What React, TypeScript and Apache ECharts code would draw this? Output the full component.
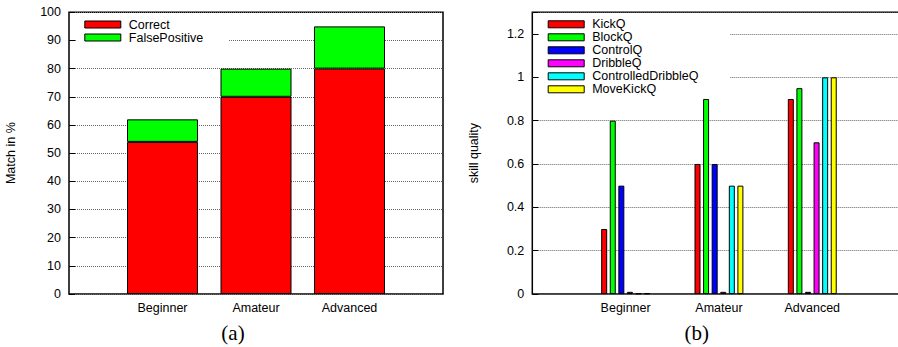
import React, { useEffect, useRef } from "react";
import * as echarts from "echarts";

// ---- data ----
const categories = ["", "Beginner", "Amateur", "Advanced", ""];
const correct = [null, 54, 70, 80, null];
const falsePositive = [null, 8, 10, 15, null];

const kickQ = [null, 0.3, 0.6, 0.9, null];
const blockQ = [null, 0.8, 0.9, 0.95, null];
const controlQ = [null, 0.5, 0.6, 0.01, null];
const dribbleQ = [null, 0.01, 0.01, 0.7, null];
const controlledDribbleQ = [null, 0.003, 0.5, 1.0, null];
const moveKickQ = [null, 0.003, 0.5, 1.0, null];

const leftTitleA = "(a)";
const rightTitleB = "(b)";

const FONT = "'Liberation Sans', Arial, Helvetica, sans-serif";
const SERIF = "'Liberation Serif', 'Times New Roman', serif";

export default function App() {
  const ref = useRef<HTMLDivElement>(null);
  useEffect(() => {
    if (!ref.current) return;
    const chart = echarts.init(ref.current, undefined, { renderer: "svg" });

    const textStyle = { fontFamily: FONT, fontSize: 12.5, color: "#000" };
    const splitLine = {
      show: true,
      lineStyle: { color: "#666", type: "dotted" as const, width: 1 },
    };
    const barStyle = (c: string) => ({ color: c, borderColor: "#000", borderWidth: 1 });

    const rightSeries = [
      { name: "KickQ", data: kickQ, color: "#ff0000" },
      { name: "BlockQ", data: blockQ, color: "#00ff00" },
      { name: "ControlQ", data: controlQ, color: "#0000ff" },
      { name: "DribbleQ", data: dribbleQ, color: "#ff00ff" },
      { name: "ControlledDribbleQ", data: controlledDribbleQ, color: "#00ffff" },
      { name: "MoveKickQ", data: moveKickQ, color: "#ffff00" },
    ];

    chart.setOption({
      animation: false,
      backgroundColor: "#fff",
      textStyle: { fontFamily: FONT },
      grid: [
        {
          left: 69,
          top: 12.3,
          width: 374,
          height: 281.7,
          show: true,
          borderColor: "#000",
          borderWidth: 1.5,
          backgroundColor: "transparent",
          outerBoundsMode: "none",
        },
        {
          left: 532.3,
          top: 12.3,
          width: 373.3,
          height: 281.7,
          show: true,
          borderColor: "#000",
          borderWidth: 1.5,
          backgroundColor: "transparent",
          outerBoundsMode: "none",
        },
      ],
      xAxis: [
        {
          type: "category",
          gridIndex: 0,
          data: categories,
          boundaryGap: false,
          axisLine: { show: false },
          axisTick: { show: false },
          axisLabel: { ...textStyle, margin: 7 },
          splitLine: { show: false },
        },
        {
          type: "category",
          gridIndex: 1,
          data: categories,
          boundaryGap: false,
          axisLine: { show: false },
          axisTick: { show: false },
          axisLabel: { ...textStyle, margin: 7 },
          splitLine: { show: false },
        },
      ],
      yAxis: [
        {
          type: "value",
          gridIndex: 0,
          min: 0,
          max: 100,
          interval: 10,
          name: "Match in %",
          nameLocation: "middle",
          nameGap: 52,
          nameTextStyle: { ...textStyle },
          axisLine: { show: false },
          axisTick: { show: true, inside: true, length: 6, lineStyle: { color: "#000" } },
          axisLabel: { ...textStyle, margin: 8 },
          splitLine,
        },
        {
          type: "value",
          gridIndex: 1,
          min: 0,
          max: 1.3,
          interval: 0.2,
          name: "skill quality",
          nameLocation: "middle",
          nameGap: 51.6,
          nameTextStyle: { ...textStyle },
          axisLine: { show: false },
          axisTick: { show: true, inside: true, length: 6, lineStyle: { color: "#000" } },
          axisLabel: {
            ...textStyle,
            margin: 8,
            formatter: (v: number) => (Math.abs(v - 1.3) < 1e-6 ? "" : String(Math.round(v * 10) / 10)),
          },
          splitLine,
        },
      ],
      legend: [
        {
          data: ["Correct", "FalsePositive"],
          orient: "vertical",
          left: 84.3,
          top: 18,
          padding: 0,
          itemGap: 0,
          itemWidth: 36,
          itemHeight: 7,
          icon: "rect",
          itemStyle: { borderColor: "#000", borderWidth: 1 },
          textStyle: { ...textStyle, lineHeight: 13, padding: [0, 0, 0, 3] },
          selectedMode: false,
          z: 10,
        },
        {
          data: rightSeries.map((s) => s.name),
          orient: "vertical",
          left: 547.7,
          top: 17.8,
          padding: 0,
          itemGap: 0,
          itemWidth: 36,
          itemHeight: 7,
          icon: "rect",
          itemStyle: { borderColor: "#000", borderWidth: 1 },
          textStyle: { ...textStyle, lineHeight: 12.9, padding: [0, 0, 0, 3] },
          selectedMode: false,
          z: 10,
        },
      ],
      graphic: [
        {
          type: "rect",
          z: 5,
          shape: { x: 76, y: 14, width: 152, height: 32 },
          style: { fill: "#fff" },
          silent: true,
        },
        {
          type: "rect",
          z: 5,
          shape: { x: 539, y: 14, width: 191, height: 80 },
          style: { fill: "#fff" },
          silent: true,
        },
        {
          type: "text",
          z: 10,
          x: 233,
          y: 333,
          style: {
            text: leftTitleA,
            font: `21px ${SERIF}`,
            fill: "#000",
            align: "center",
            verticalAlign: "middle",
          },
        },
        {
          type: "text",
          z: 10,
          x: 696.7,
          y: 333,
          style: {
            text: rightTitleB,
            font: `21px ${SERIF}`,
            fill: "#000",
            align: "center",
            verticalAlign: "middle",
          },
        },
      ],
      series: [
        {
          name: "Correct",
          type: "bar",
          xAxisIndex: 0,
          yAxisIndex: 0,
          stack: "a",
          barWidth: 71,
          data: correct,
          itemStyle: barStyle("#ff0000"),
        },
        {
          name: "FalsePositive",
          type: "bar",
          xAxisIndex: 0,
          yAxisIndex: 0,
          stack: "a",
          barWidth: 71,
          data: falsePositive,
          itemStyle: barStyle("#00ff00"),
        },
        ...rightSeries.map((s) => ({
          name: s.name,
          type: "bar",
          xAxisIndex: 1,
          yAxisIndex: 1,
          barWidth: 6,
          barGap: "43%",
          data: s.data,
          itemStyle: barStyle(s.color),
        })),
      ],
    });

    return () => chart.dispose();
  }, []);

  return (
    <div
      ref={ref}
      style={{ position: "fixed", left: 0, top: 0, width: 898, height: 347, background: "#fff" }}
    />
  );
}
